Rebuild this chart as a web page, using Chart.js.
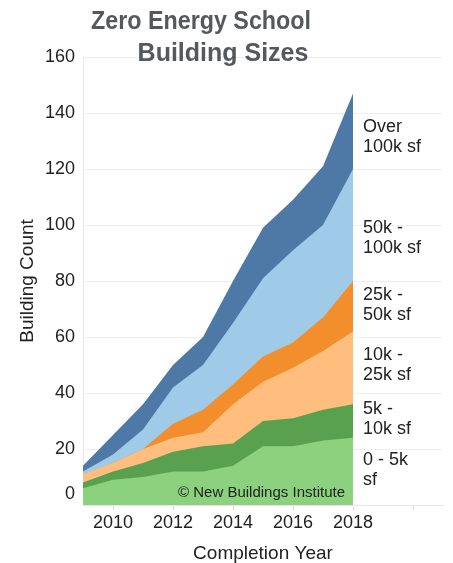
<!DOCTYPE html>
<html><head><meta charset="utf-8">
<script src="https://cdn.jsdelivr.net/npm/chart.js@4"></script>
<style>html,body{margin:0;padding:0;background:#fff}#wrap{width:453px;height:563px;position:relative}</style>
</head><body><div id="wrap"><canvas id="c"></canvas></div>
<script>
const years = [2009, 2010, 2011, 2012, 2013, 2014, 2015, 2016, 2017, 2018];
const size0to5k    = [6, 9, 10, 12, 12, 14, 21, 21, 23, 24];
const size5to10k   = [2, 3, 5, 7, 9, 8, 9, 10, 11, 12];
const size10to25k  = [3, 3, 5, 5, 5, 14, 14, 18, 21, 26];
const size25to50k  = [0, 0, 0, 5, 8, 7, 9, 9, 12, 18];
const size50to100k = [1, 3, 7, 13, 16, 22, 28, 33, 33, 40];
const sizeOver100k = [2, 7, 9, 8, 10, 15, 18, 18, 21, 27];
const yTicks = [0, 20, 40, 60, 80, 100, 120, 140, 160];
const xTicks = [2010, 2012, 2014, 2016, 2018, 2020];
const xTickLabels = [2010, 2012, 2014, 2016, 2018];
const titleLines = ['Zero Energy School', 'Building Sizes'];
const bandLabels = [['0 - 5k', 'sf'], ['5k -', '10k sf'], ['10k -', '25k sf'], ['25k -', '50k sf'], ['50k -', '100k sf'], ['Over', '100k sf']];
const credit = '\u00A9 New Buildings Institute';

const FONT = '"Liberation Sans", Arial, Helvetica, sans-serif';
const series = [size0to5k, size5to10k, size10to25k, size25to50k, size50to100k, sizeOver100k];
const colors = ['#8CD17D', '#59A14F', '#FFBE7D', '#F28E2B', '#A0CBE8', '#4E79A7'];
const labelAnchors = [12.5, 30.7, 50, 71.4, 95.4, 131.4];

const annot = {
  id: 'annot',
  afterDraw(chart) {
    const ctx = chart.ctx, xs = chart.scales.x, ys = chart.scales.y;
    ctx.save();
    ctx.textBaseline = 'middle';
    ctx.fillStyle = '#55595e';
    ctx.font = 'bold 25px ' + FONT;
    ctx.textAlign = 'center';
    ctx.fillText(titleLines[0], 201, 22, 220);
    ctx.fillText(titleLines[1], 223, 54);
    ctx.fillStyle = '#222';
    ctx.font = '18px ' + FONT;
    ctx.textAlign = 'left';
    const lx = xs.getPixelForValue(years[years.length - 1]) + 10;
    bandLabels.forEach((lines, i) => {
      const cy = ys.getPixelForValue(labelAnchors[i]);
      lines.forEach((t, j) => ctx.fillText(t, lx, cy + (j - (lines.length - 1) / 2) * 20));
    });
    ctx.font = '15px ' + FONT;
    ctx.textAlign = 'right';
    ctx.fillText(credit, xs.getPixelForValue(years[years.length - 1]) - 8, ys.getPixelForValue(0) - 12);
    ctx.restore();
  }
};

new Chart(document.getElementById('c'), {
  type: 'line',
  data: {
    datasets: series.map((arr, i) => ({
      label: bandLabels[i].join(' '),
      data: years.map((yr, k) => ({x: yr, y: arr[k]})),
      backgroundColor: colors[i],
      borderColor: colors[i],
      borderWidth: 0,
      pointRadius: 0,
      fill: 'origin',
      tension: 0
    }))
  },
  options: {
    responsive: true,
    maintainAspectRatio: false,
    animation: false,
    layout: {padding: {top: 57, right: 10, left: 0, bottom: 0}},
    plugins: {legend: {display: false}, tooltip: {enabled: false}, title: {display: false}},
    scales: {
      x: {
        type: 'linear', min: 2009, max: 2021,
        afterFit: s => { s.height = 58; },
        afterBuildTicks: s => { s.ticks = xTicks.map(v => ({value: v})); },
        ticks: {
          autoSkip: false, maxRotation: 0,
          padding: 1, color: '#222', font: {family: FONT, size: 18},
          callback: v => xTickLabels.includes(v) ? String(v) : ''
        },
        grid: {drawOnChartArea: false, drawTicks: true, tickLength: 6, tickColor: '#e0e0e0'},
        border: {display: true, color: '#e6e6e6'},
        title: {display: true, text: 'Completion Year', color: '#222', font: {family: FONT, size: 19, lineHeight: 1}, padding: {top: 0, bottom: 0}}
      },
      y: {
        stacked: true, min: 0, max: 160,
        afterFit: s => { s.width = 83; },
        afterBuildTicks: s => { s.ticks = yTicks.map(v => ({value: v})); },
        ticks: {
          padding: 8, color: '#222', font: {family: FONT, size: 18},
          callback: v => v === 0 ? ['0', ''] : String(v)
        },
        grid: {color: '#eeeeee', drawTicks: false},
        border: {display: true, color: '#e8e8e8'},
        title: {display: true, text: 'Building Count', color: '#222', font: {family: FONT, size: 19}, padding: {top: 16, bottom: 0}}
      }
    }
  },
  plugins: [annot]
});
</script>
</body></html>
